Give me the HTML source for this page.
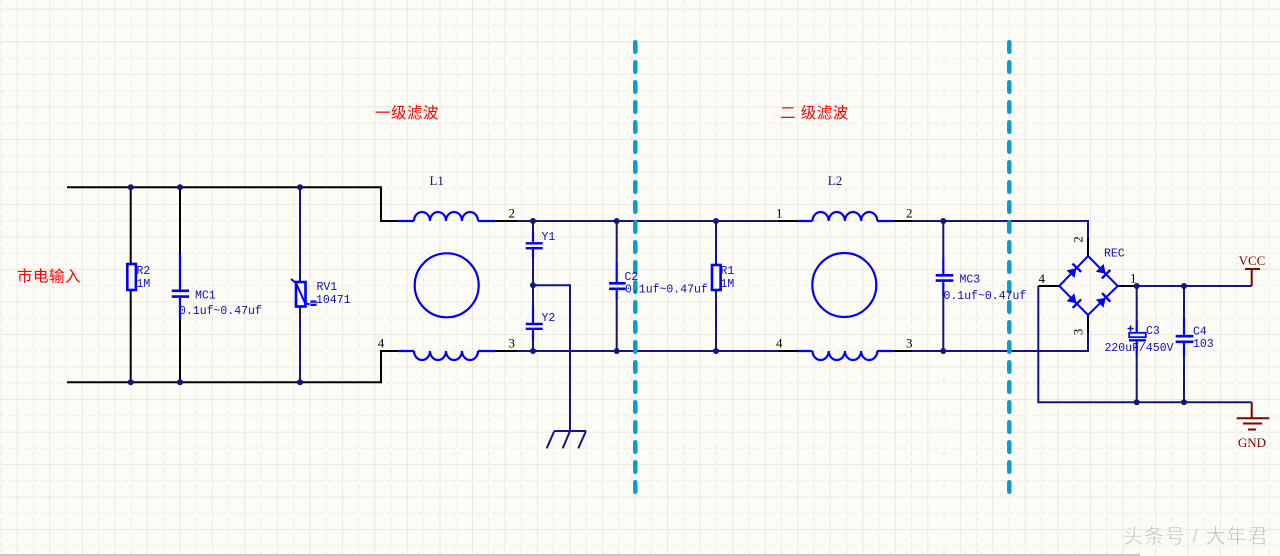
<!DOCTYPE html>
<html><head><meta charset="utf-8"><style>
html,body{margin:0;padding:0;background:#fdfbf6;overflow:hidden}
svg{display:block}
</style></head><body>
<svg width="1280" height="556" viewBox="0 0 1280 556" xmlns="http://www.w3.org/2000/svg">
<rect width="1280" height="556" fill="#fdfbf6"/>
<g stroke="#e9e8e2" stroke-width="1" fill="none">
<path d="M17.2 0V556M49.7 0V556M82.2 0V556M114.8 0V556M147.3 0V556M179.8 0V556M212.3 0V556M244.8 0V556M277.4 0V556M309.9 0V556M342.4 0V556M374.9 0V556M407.4 0V556M440 0V556M472.5 0V556M505 0V556M537.5 0V556M570 0V556M602.6 0V556M635.1 0V556M667.6 0V556M700.1 0V556M732.6 0V556M765.2 0V556M797.7 0V556M830.2 0V556M862.7 0V556M895.2 0V556M927.8 0V556M960.3 0V556M992.8 0V556M1025.3 0V556M1057.8 0V556M1090.4 0V556M1122.9 0V556M1155.4 0V556M1187.9 0V556M1220.4 0V556M1253 0V556
M0 9.3H1280M0 41.8H1280M0 74.3H1280M0 106.9H1280M0 139.4H1280M0 171.9H1280M0 204.4H1280M0 236.9H1280M0 269.5H1280M0 302H1280M0 334.5H1280M0 367H1280M0 399.5H1280M0 432.1H1280M0 464.6H1280M0 497.1H1280M0 529.6H1280"/>
<path stroke-dasharray="5 3.2" stroke="#ecebe5" d="M0.9 0V556M33.5 0V556M66 0V556M98.5 0V556M131 0V556M163.5 0V556M196.1 0V556M228.6 0V556M261.1 0V556M293.6 0V556M326.1 0V556M358.7 0V556M391.2 0V556M423.7 0V556M456.2 0V556M488.7 0V556M521.3 0V556M553.8 0V556M586.3 0V556M618.8 0V556M651.3 0V556M683.9 0V556M716.4 0V556M748.9 0V556M781.4 0V556M813.9 0V556M846.5 0V556M879 0V556M911.5 0V556M944 0V556M976.5 0V556M1009.1 0V556M1041.6 0V556M1074.1 0V556M1106.6 0V556M1139.1 0V556M1171.7 0V556M1204.2 0V556M1236.7 0V556M1269.2 0V556
M0 25.6H1280M0 58.1H1280M0 90.6H1280M0 123.1H1280M0 155.6H1280M0 188.2H1280M0 220.7H1280M0 253.2H1280M0 285.7H1280M0 318.2H1280M0 350.8H1280M0 383.3H1280M0 415.8H1280M0 448.3H1280M0 480.8H1280M0 513.4H1280M0 545.9H1280"/>
</g>

<!-- LEFT BLACK WIRES -->
<g stroke="#000" stroke-width="2" fill="none">
<path d="M67 187.3H381V221H398M67 382.3H381V351H398"/>
<path d="M130.7 187.3V264M130.7 290V382.3"/>
<path d="M180 187.3V253M180 320V382.3"/>
<path d="M495 221H517M495 351H517"/>
<path d="M778 221H797M778 351H797M893 221H912M893 351H912"/>
<path d="M1088 238V256M1088 333V315M1059.3 286H1038.3M1117.7 286H1137"/>
</g>

<!-- NAVY WIRES -->
<g stroke="#15157f" stroke-width="2" fill="none">
<path d="M300 187.3V282M300 306.5V382.3"/>
<path d="M517 221H778M912 221H1088V238M517 351H778M912 351H1088V333"/>
<path d="M533 221V232M533 258V305M533 340V351M533 285.3H570V431"/>
<path d="M554.3 431H586M554.3 431L546.7 448.3M570 431L562.7 448.3M586 431L578.3 448.3"/>
<path d="M616.7 221V262M616.7 300V351"/>
<path d="M716 221V265M716 290V351"/>
<path d="M943.3 221V258M943.3 295V351"/>
<path d="M1038.3 286V402.3H1251.7M1137 286H1251.7"/>
<path d="M1136.7 286V320M1136.7 356V402.3M1184 286V318M1184 356V402.3"/>
</g>

<!-- junctions -->
<g fill="#15157f">
<circle cx="130.7" cy="187.3" r="3"/><circle cx="180" cy="187.3" r="3"/><circle cx="300" cy="187.3" r="3"/>
<circle cx="130.7" cy="382.3" r="3"/><circle cx="180" cy="382.3" r="3"/><circle cx="300" cy="382.3" r="3"/>
<circle cx="533" cy="221" r="3"/><circle cx="533" cy="351" r="3"/><circle cx="533" cy="285.3" r="3"/>
<circle cx="616.7" cy="221" r="3"/><circle cx="616.7" cy="351" r="3"/>
<circle cx="716" cy="221" r="3"/><circle cx="716" cy="351" r="3"/>
<circle cx="943.3" cy="221" r="3"/><circle cx="943.3" cy="351" r="3"/>
<circle cx="1136.7" cy="286" r="3"/><circle cx="1184" cy="286" r="3"/>
<circle cx="1136.7" cy="402.3" r="3"/><circle cx="1184" cy="402.3" r="3"/>
</g>

<!-- BLUE COMPONENTS -->
<g stroke="#0000f4" stroke-width="2.2" fill="none">
<!-- R2 -->
<rect x="127.3" y="264" width="8.6" height="26" stroke-width="2.6"/>
<!-- MC1 -->
<path d="M180 253V290M180 298V320"/>
<path d="M171.7 290.8H189M171.7 296.6H189" stroke-width="2.6"/>
<!-- RV1 -->
<rect x="296" y="282" width="9.5" height="24.5" stroke-width="2.6"/>
<path d="M291 279L296 283L305 303L309.5 304.5" stroke-width="2"/>
<!-- L1 -->
<path d="M398 221H414M478 221H495M398 351H414M478 351H495"/>
<path d="M414 221a8 9 0 0 1 16 0a8 9 0 0 1 16 0a8 9 0 0 1 16 0a8 9 0 0 1 16 0"/>
<path d="M414 351a8 9 0 0 0 16 0a8 9 0 0 0 16 0a8 9 0 0 0 16 0a8 9 0 0 0 16 0"/>
<circle cx="446.7" cy="285.3" r="32"/>
<!-- Y1 Y2 -->
<path d="M533 232V243M533 248V258M533 305V323.5M533 329V340"/>
<path d="M525.7 243.3H542.7M525.7 248.2H542.7M525.7 324H542.7M525.7 328.8H542.7" stroke-width="2.4"/>
<!-- C2 -->
<path d="M616.7 262V283M616.7 289V300"/>
<path d="M609 283.3H625.7M609 288.8H625.7" stroke-width="2.6"/>
<!-- R1 -->
<rect x="712" y="265" width="8.6" height="25" stroke-width="2.6"/>
<!-- L2 -->
<path d="M797 221H812.5M877 221H893M797 351H812.5M877 351H893"/>
<path d="M812.5 221a8.1 9 0 0 1 16.2 0a8.1 9 0 0 1 16.2 0a8.1 9 0 0 1 16.2 0a8.1 9 0 0 1 16.2 0"/>
<path d="M812.5 351a8.1 9 0 0 0 16.2 0a8.1 9 0 0 0 16.2 0a8.1 9 0 0 0 16.2 0a8.1 9 0 0 0 16.2 0"/>
<circle cx="844.3" cy="285" r="32"/>
<!-- MC3 -->
<path d="M943.3 258V275M943.3 281V295"/>
<path d="M935.7 275.3H953.3M935.7 280.6H953.3" stroke-width="2.6"/>
<!-- bridge -->
<path d="M1088 256L1117.7 286L1088 315L1059.3 286Z" stroke-width="2"/>
<!-- C3 -->
<path d="M1136.7 320V332.5M1136.7 341V356"/>
<rect x="1129.2" y="332.8" width="16.6" height="4.4" stroke-width="1.8"/>
<path d="M1129 340.3H1146" stroke-width="2.4"/>
<path d="M1127.5 328.5H1133.5M1130.5 325.5V331.5" stroke-width="1.5"/>
<!-- C4 -->
<path d="M1184 318V336M1184 342V356"/>
<path d="M1175.7 336.2H1193.3M1175.7 341.8H1193.3" stroke-width="2.6"/>
</g>
<rect x="310.5" y="300.5" width="6" height="5.5" fill="#0000f4"/>
<path d="M311 303.2H316" stroke="#fdfbf6" stroke-width="1"/>

<!-- diodes -->
<g fill="#0000f4" stroke="#0000f4">
<g transform="translate(1073.7 271) rotate(-46)"><polygon points="-4.5,-5.5 -4.5,5.5 4,0" stroke="none"/><path d="M4.5 -6V6" stroke-width="2.4"/></g>
<g transform="translate(1102.9 271) rotate(45)"><polygon points="-4.5,-5.5 -4.5,5.5 4,0" stroke="none"/><path d="M4.5 -6V6" stroke-width="2.4"/></g>
<g transform="translate(1073.7 300.5) rotate(45)"><polygon points="-4.5,-5.5 -4.5,5.5 4,0" stroke="none"/><path d="M4.5 -6V6" stroke-width="2.4"/></g>
<g transform="translate(1102.9 300.5) rotate(-44)"><polygon points="-4.5,-5.5 -4.5,5.5 4,0" stroke="none"/><path d="M4.5 -6V6" stroke-width="2.4"/></g>
</g>

<!-- VCC / GND -->
<g stroke="#800000" stroke-width="2" fill="none">
<path d="M1251.7 286V269M1245 269H1260"/>
<path d="M1251.7 402.3V418.3M1236.7 418.3H1269.3M1243 423.5H1262M1248 429.5H1256"/>
</g>

<!-- dashed dividers -->
<g stroke="#0b9ccd" stroke-width="4.5" stroke-linecap="round" stroke-dasharray="9.5 10.5" fill="none">
<path d="M635.3 42.25V491.75"/>
<path d="M1009.3 42.25V491.75"/>
</g>

<!-- designator text -->
<g font-family="'Liberation Mono', monospace" font-size="11.5" fill="#1010b0" dominant-baseline="central">
<text x="136.5" y="271.5">R2</text>
<text x="136.5" y="284.5">1M</text>
<text x="195" y="296">MC1</text>
<text x="179" y="311.5">0.1uf~0.47uf</text>
<text x="316.5" y="287.3">RV1</text>
<text x="316" y="300.7">10471</text>
<text x="541.5" y="237.3">Y1</text>
<text x="541.5" y="318.3">Y2</text>
<text x="624.5" y="277.3">C2</text>
<text x="625" y="290">0.1uf~0.47uf</text>
<text x="720.5" y="271.5">R1</text>
<text x="720.5" y="284.5">1M</text>
<text x="959.5" y="280">MC3</text>
<text x="943.5" y="296.7">0.1uf~0.47uf</text>
<text x="1104" y="254">REC</text>
<text x="1146" y="331.7">C3</text>
<text x="1104.5" y="348.3">220uF/450V</text>
<text x="1193" y="332">C4</text>
<text x="1193" y="344.5">103</text>
</g>

<!-- pin numbers / L labels -->
<g font-family="'Liberation Serif', serif" font-size="13" fill="#000" text-anchor="middle" dominant-baseline="central">
<text x="436.7" y="180.7" fill="#101070">L1</text>
<text x="835" y="180.7" fill="#101070">L2</text>
<text x="511.7" y="213">2</text>
<text x="381" y="343">4</text>
<text x="511.7" y="343">3</text>
<text x="779.3" y="213">1</text>
<text x="909.3" y="213">2</text>
<text x="779.3" y="343">4</text>
<text x="909.3" y="343">3</text>
<text x="1041.7" y="278.3">4</text>
<text x="1133.3" y="278">1</text>
<text transform="translate(1078 239.5) rotate(-90)">2</text>
<text transform="translate(1078 332) rotate(-90)">3</text>
<text x="1252" y="260.7" fill="#800000">VCC</text>
<text x="1252" y="442.7" fill="#800000">GND</text>
</g>

<!-- Chinese labels -->
<g font-family="'Liberation Sans','Noto Sans CJK SC',sans-serif" font-size="15.5" fill="#ff0000" dominant-baseline="central" letter-spacing="0.5">
<text x="375" y="113.3">一级滤波</text>
<text x="780" y="113.3">二 级滤波</text>
<text x="17" y="277">市电输入</text>
</g>

<text x="1123" y="537" font-family="'Liberation Sans','Noto Sans CJK SC',sans-serif" font-size="20" letter-spacing="1" fill="#c2c2c2" stroke="#ffffff" stroke-width="0.4" dominant-baseline="central">头条号 / 大年君</text>

<rect x="0" y="554" width="1140" height="2" fill="#c8c8c8"/>
</svg>
</body></html>
